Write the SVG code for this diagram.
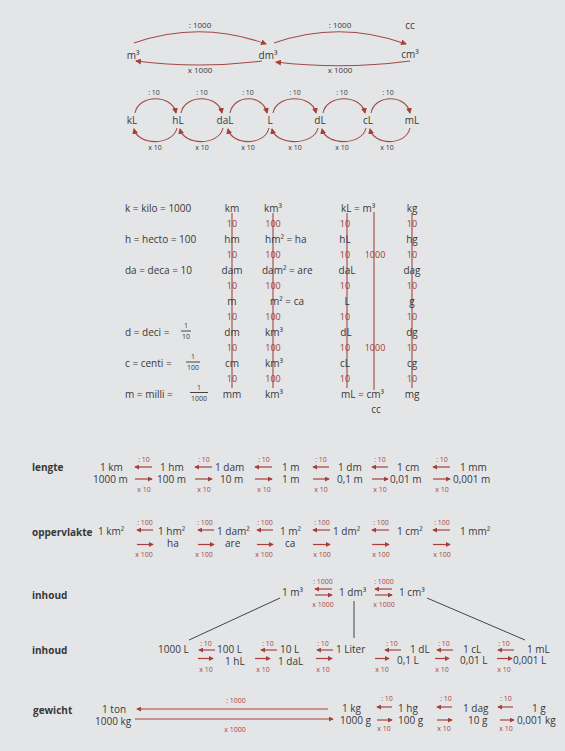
<svg xmlns="http://www.w3.org/2000/svg" width="565" height="751" viewBox="0 0 565 751">
<defs>
<style>
text{font-family:"Open Sans","Noto Sans","DejaVu Sans",sans-serif;fill:#383838}
.n{font-size:10px}
.b{font-size:10px;font-weight:bold}
.s{font-size:7px}
.m{text-anchor:middle}
.rs{font-size:7px;fill:#a8453e;text-anchor:middle}
.tr{font-size:9px;fill:#9e3b35;text-anchor:middle}
.arc{fill:none;stroke:#a04a45;stroke-width:1.1}
.ar{fill:none;stroke:#a8403a;stroke-width:1.2}
.vl{stroke:#a65550;stroke-width:1.2}
.gl{stroke:#444;stroke-width:1}
</style>
<marker id="ah" viewBox="0 0 6 6" markerWidth="6" markerHeight="6" refX="5" refY="3" orient="auto" markerUnits="userSpaceOnUse">
<path d="M0,0 L6,3 L0,6 z" fill="#a8403a"/>
</marker>
<marker id="as" viewBox="0 0 6 6" markerWidth="5" markerHeight="5" refX="5" refY="3" orient="auto" markerUnits="userSpaceOnUse">
<path d="M0,0 L6,3 L0,6 z" fill="#a8403a"/>
</marker>
</defs>
<rect width="565" height="751" fill="#e4e5e7"/>

<!-- top: volume units -->
<g id="top-nodes">
<text class="n m" x="133" y="59">m³</text>
<text class="n m" x="268" y="59">dm³</text>
<text class="n m" x="410" y="58">cm³</text>
<text class="n m" x="410" y="29">cc</text>
</g>
<g id="litre-nodes">
<text class="n m" x="132" y="124">kL</text>
<text class="n m" x="178" y="124">hL</text>
<text class="n m" x="225" y="124">daL</text>
<text class="n m" x="270" y="124">L</text>
<text class="n m" x="320" y="124">dL</text>
<text class="n m" x="368" y="124">cL</text>
<text class="n m" x="412" y="124">mL</text>
</g>

<g id="table">
<g id="prefixes">
<text class="n" x="125" y="211.5">k = kilo = 1000</text>
<text class="n" x="125" y="242.5">h = hecto = 100</text>
<text class="n" x="125" y="273.5">da = deca = 10</text>
<text class="n" x="125" y="335.5">d = deci =</text>
<text class="s m" x="186" y="328">1</text><line class="gl" x1="181" y1="331" x2="191" y2="331" stroke-width="0.8"/><text class="s m" x="186" y="339">10</text>
<text class="n" x="125" y="366.5">c = centi =</text>
<text class="s m" x="193" y="359">1</text><line class="gl" x1="186" y1="362" x2="200" y2="362" stroke-width="0.8"/><text class="s m" x="193" y="370">100</text>
<text class="n" x="125" y="397.5">m = milli =</text>
<text class="s m" x="199" y="389.5">1</text><line class="gl" x1="190" y1="392.5" x2="208" y2="392.5" stroke-width="0.8"/><text class="s m" x="199" y="401">1000</text>
</g>
<g id="table-lines">
<line class="vl" x1="232" y1="213" x2="232" y2="388"/>
<line class="vl" x1="273" y1="213" x2="273" y2="388"/>
<line class="vl" x1="347" y1="213" x2="347" y2="388"/>
<line class="vl" x1="374" y1="212" x2="374" y2="390"/>
<line class="vl" x1="412" y1="213" x2="412" y2="388"/>
</g>
<g id="col-length">
<text class="n m" x="232" y="211.5">km</text>
<text class="tr" x="232" y="226.5">10</text>
<text class="n m" x="232" y="242.5">hm</text>
<text class="tr" x="232" y="257.5">10</text>
<text class="n m" x="232" y="273.5">dam</text>
<text class="tr" x="232" y="288.5">10</text>
<text class="n m" x="232" y="304.5">m</text>
<text class="tr" x="232" y="319.5">10</text>
<text class="n m" x="232" y="335.5">dm</text>
<text class="tr" x="232" y="350.5">10</text>
<text class="n m" x="232" y="366.5">cm</text>
<text class="tr" x="232" y="381.5">10</text>
<text class="n m" x="232" y="397.5">mm</text>
</g>
<g id="col-area">
<text class="n" x="264" y="211.5">km³</text>
<text class="tr" x="273" y="226.5">100</text>
<text class="n" x="265" y="242.5">hm² = ha</text>
<text class="tr" x="273" y="257.5">100</text>
<text class="n" x="262" y="273.5">dam² = are</text>
<text class="tr" x="273" y="288.5">100</text>
<text class="n" x="270" y="304.5">m² = ca</text>
<text class="tr" x="273" y="319.5">100</text>
<text class="n" x="265" y="335.5">km³</text>
<text class="tr" x="273" y="350.5">100</text>
<text class="n" x="265" y="366.5">km³</text>
<text class="tr" x="273" y="381.5">100</text>
<text class="n" x="265" y="397.5">km³</text>
</g>
<g id="col-volume">
<text class="n" x="341" y="211.5">kL  =  m³</text>
<text class="tr" x="345" y="226.5">10</text>
<text class="n m" x="345" y="242.5">hL</text>
<text class="tr" x="345" y="257.5">10</text>
<text class="tr" x="375" y="257.5">1000</text>
<text class="n m" x="347" y="273.5">daL</text>
<text class="tr" x="345" y="288.5">10</text>
<text class="n m" x="347" y="304.5">L</text>
<text class="tr" x="345" y="319.5">10</text>
<text class="n m" x="346" y="335.5">dL</text>
<text class="tr" x="345" y="350.5">10</text>
<text class="tr" x="375" y="350.5">1000</text>
<text class="n m" x="345" y="366.5">cL</text>
<text class="tr" x="345" y="381.5">10</text>
<text class="n" x="341" y="397.5">mL = cm³</text>
<text class="n m" x="376" y="412.5">cc</text>
</g>
<g id="col-mass">
<text class="n m" x="412" y="211.5">kg</text>
<text class="tr" x="412" y="226.5">10</text>
<text class="n m" x="412" y="242.5">hg</text>
<text class="tr" x="412" y="257.5">10</text>
<text class="n m" x="412" y="273.5">dag</text>
<text class="tr" x="412" y="288.5">10</text>
<text class="n m" x="412" y="304.5">g</text>
<text class="tr" x="412" y="319.5">10</text>
<text class="n m" x="412" y="335.5">dg</text>
<text class="tr" x="412" y="350.5">10</text>
<text class="n m" x="412" y="366.5">cg</text>
<text class="tr" x="412" y="381.5">10</text>
<text class="n m" x="412" y="397.5">mg</text>
</g>
</g>

<g id="lengte">
<text class="b" x="32" y="471">lengte</text>
<text class="n" x="100" y="470.5">1 km</text>
<text class="n" x="160" y="470.5">1 hm</text>
<text class="n" x="215" y="470.5">1 dam</text>
<text class="n" x="282" y="470.5">1 m</text>
<text class="n" x="338" y="470.5">1 dm</text>
<text class="n" x="397" y="470.5">1 cm</text>
<text class="n" x="460" y="470.5">1 mm</text>
<text class="n" x="93" y="482.5">1000 m</text>
<text class="n" x="157" y="482.5">100 m</text>
<text class="n" x="220" y="482.5">10 m</text>
<text class="n" x="282" y="482.5">1 m</text>
<text class="n" x="337" y="482.5">0,1 m</text>
<text class="n" x="390" y="482.5">0,01 m</text>
<text class="n" x="453" y="482.5">0,001 m</text>
</g>

<g id="oppervlakte">
<text class="b" x="32" y="535.5">oppervlakte</text>
<text class="n" x="98" y="534.5">1 km²</text>
<text class="n" x="158" y="534.5">1 hm²</text>
<text class="n" x="217" y="534.5">1 dam²</text>
<text class="n" x="280" y="534.5">1 m²</text>
<text class="n" x="333" y="534.5">1 dm²</text>
<text class="n" x="397" y="534.5">1 cm²</text>
<text class="n" x="460" y="534.5">1 mm²</text>
<text class="n" x="167" y="547">ha</text>
<text class="n" x="225" y="547">are</text>
<text class="n" x="285" y="547">ca</text>
</g>

<g id="inhoud-1">
<text class="b" x="32" y="599">inhoud</text>
<text class="n" x="282" y="595.5">1 m³</text>
<text class="n" x="339" y="595.5">1 dm³</text>
<text class="n" x="399" y="595.5">1 cm³</text>
</g>

<g id="inhoud-2">
<text class="b" x="32" y="654">inhoud</text>
<text class="n" x="158" y="652.5">1000 L</text>
<text class="n" x="217" y="652.5">100 L</text>
<text class="n" x="280" y="652.5">10 L</text>
<text class="n" x="336" y="652.5">1 Liter</text>
<text class="n" x="410" y="652.5">1 dL</text>
<text class="n" x="463" y="652.5">1 cL</text>
<text class="n" x="527" y="652.5">1 mL</text>
<text class="n" x="225" y="665">1 hL</text>
<text class="n" x="278" y="665">1 daL</text>
<text class="n" x="397" y="664">0,1 L</text>
<text class="n" x="460" y="664">0,01 L</text>
<text class="n" x="513" y="664">0,001 L</text>
</g>

<g id="gewicht">
<text class="b" x="33" y="713.5">gewicht</text>
<text class="n" x="102" y="713">1 ton</text>
<text class="n" x="95" y="725">1000 kg</text>
<text class="n" x="342" y="711.5">1 kg</text>
<text class="n" x="398" y="711.5">1 hg</text>
<text class="n" x="463" y="711.5">1 dag</text>
<text class="n" x="532" y="711.5">1 g</text>
<text class="n" x="340" y="723.5">1000 g</text>
<text class="n" x="398" y="723.5">100 g</text>
<text class="n" x="468" y="723.5">10 g</text>
<text class="n" x="517" y="723.5">0,001 kg</text>
</g>

<g id="connectors">
<!-- top arcs -->
<path class="arc" d="M134,43 Q200,20 266,44" marker-end="url(#ah)"/>
<path class="arc" d="M274,43 Q340,20 406,44" marker-end="url(#ah)"/>
<path class="arc" d="M262,61 Q198,69 136,61" marker-end="url(#ah)"/>
<path class="arc" d="M410,61 Q342,70 276,62" marker-end="url(#ah)"/>
<text class="s m" x="200" y="28" style="font-size:8px">: 1000</text>
<text class="s m" x="340" y="28" style="font-size:8px">: 1000</text>
<text class="s m" x="200" y="73" style="font-size:8px">x 1000</text>
<text class="s m" x="340" y="73" style="font-size:8px">x 1000</text>
<!-- litre arcs -->
<g>
<path class="arc" d="M135,113 C139,94 172,94 176,113" marker-end="url(#ah)"/>
<path class="arc" d="M181,113 C185,94 218,94 222,113" marker-end="url(#ah)"/>
<path class="arc" d="M230,113 C234,94 263,94 267,113" marker-end="url(#ah)"/>
<path class="arc" d="M273,113 C277,94 312,94 316,113" marker-end="url(#ah)"/>
<path class="arc" d="M323,113 C327,94 361,94 365,113" marker-end="url(#ah)"/>
<path class="arc" d="M371,113 C375,94 406,94 410,113" marker-end="url(#ah)"/>
<path class="arc" d="M177,128 C173,146 138,146 134,129" marker-end="url(#ah)"/>
<path class="arc" d="M223,128 C219,146 184,146 180,129" marker-end="url(#ah)"/>
<path class="arc" d="M269,128 C265,146 232,146 228,129" marker-end="url(#ah)"/>
<path class="arc" d="M318,128 C314,146 276,146 272,129" marker-end="url(#ah)"/>
<path class="arc" d="M366,128 C362,146 326,146 322,129" marker-end="url(#ah)"/>
<path class="arc" d="M410,128 C406,146 374,146 370,129" marker-end="url(#ah)"/>
<text class="s m" x="154" y="95">: 10</text>
<text class="s m" x="202" y="95">: 10</text>
<text class="s m" x="248" y="95">: 10</text>
<text class="s m" x="295" y="95">: 10</text>
<text class="s m" x="342" y="95">: 10</text>
<text class="s m" x="388" y="95">: 10</text>
<text class="s m" x="155" y="150">x 10</text>
<text class="s m" x="202" y="150">x 10</text>
<text class="s m" x="248" y="150">x 10</text>
<text class="s m" x="295" y="150">x 10</text>
<text class="s m" x="342" y="150">x 10</text>
<text class="s m" x="387" y="150">x 10</text>
</g>
<!-- lengte arrows -->
<g>
<line class="ar" x1="152" y1="467" x2="135" y2="467" marker-end="url(#as)"/>
<line class="ar" x1="212" y1="467" x2="195" y2="467" marker-end="url(#as)"/>
<line class="ar" x1="272" y1="467" x2="255" y2="467" marker-end="url(#as)"/>
<line class="ar" x1="329" y1="467" x2="313" y2="467" marker-end="url(#as)"/>
<line class="ar" x1="388" y1="467" x2="372" y2="467" marker-end="url(#as)"/>
<line class="ar" x1="450" y1="467" x2="433" y2="467" marker-end="url(#as)"/>
<line class="ar" x1="135" y1="479" x2="152" y2="479" marker-end="url(#as)"/>
<line class="ar" x1="195" y1="479" x2="212" y2="479" marker-end="url(#as)"/>
<line class="ar" x1="255" y1="479" x2="272" y2="479" marker-end="url(#as)"/>
<line class="ar" x1="313" y1="479" x2="329" y2="479" marker-end="url(#as)"/>
<line class="ar" x1="372" y1="479" x2="388" y2="479" marker-end="url(#as)"/>
<line class="ar" x1="433" y1="479" x2="450" y2="479" marker-end="url(#as)"/>
<text class="rs" x="144" y="461.5">: 10</text>
<text class="rs" x="204" y="461.5">: 10</text>
<text class="rs" x="264" y="461.5">: 10</text>
<text class="rs" x="321" y="461.5">: 10</text>
<text class="rs" x="380" y="461.5">: 10</text>
<text class="rs" x="442" y="461.5">: 10</text>
<text class="rs" x="144" y="491.5">x 10</text>
<text class="rs" x="204" y="491.5">x 10</text>
<text class="rs" x="264" y="491.5">x 10</text>
<text class="rs" x="321" y="491.5">x 10</text>
<text class="rs" x="380" y="491.5">x 10</text>
<text class="rs" x="442" y="491.5">x 10</text>
</g>
<!-- oppervlakte arrows -->
<g>
<line class="ar" x1="153" y1="530" x2="137" y2="530" marker-end="url(#as)"/>
<line class="ar" x1="214" y1="530" x2="198" y2="530" marker-end="url(#as)"/>
<line class="ar" x1="273" y1="530" x2="257" y2="530" marker-end="url(#as)"/>
<line class="ar" x1="330" y1="530" x2="313" y2="530" marker-end="url(#as)"/>
<line class="ar" x1="389" y1="530" x2="372" y2="530" marker-end="url(#as)"/>
<line class="ar" x1="450" y1="530" x2="433" y2="530" marker-end="url(#as)"/>
<line class="ar" x1="137" y1="544.5" x2="153" y2="544.5" marker-end="url(#as)"/>
<line class="ar" x1="198" y1="544.5" x2="214" y2="544.5" marker-end="url(#as)"/>
<line class="ar" x1="257" y1="544.5" x2="273" y2="544.5" marker-end="url(#as)"/>
<line class="ar" x1="313" y1="544.5" x2="330" y2="544.5" marker-end="url(#as)"/>
<line class="ar" x1="372" y1="544.5" x2="389" y2="544.5" marker-end="url(#as)"/>
<line class="ar" x1="433" y1="544.5" x2="450" y2="544.5" marker-end="url(#as)"/>
<text class="rs" x="145" y="524.5">: 100</text>
<text class="rs" x="205" y="524.5">: 100</text>
<text class="rs" x="265" y="524.5">: 100</text>
<text class="rs" x="322" y="524.5">: 100</text>
<text class="rs" x="381" y="524.5">: 100</text>
<text class="rs" x="442" y="524.5">: 100</text>
<text class="rs" x="144" y="556.5">x 100</text>
<text class="rs" x="204" y="556.5">x 100</text>
<text class="rs" x="264" y="556.5">x 100</text>
<text class="rs" x="322" y="556.5">x 100</text>
<text class="rs" x="381" y="556.5">x 100</text>
<text class="rs" x="442" y="556.5">x 100</text>
</g>
<!-- inhoud arrows -->
<g>
<line class="ar" x1="332" y1="589" x2="315" y2="589" marker-end="url(#as)"/>
<line class="ar" x1="315" y1="595" x2="332" y2="595" marker-end="url(#as)"/>
<line class="ar" x1="392" y1="589" x2="375" y2="589" marker-end="url(#as)"/>
<line class="ar" x1="375" y1="595" x2="392" y2="595" marker-end="url(#as)"/>
<text class="rs" x="323" y="583.5">: 1000</text>
<text class="rs" x="384" y="583.5">: 1000</text>
<text class="rs" x="323" y="607">x 1000</text>
<text class="rs" x="384" y="607">x 1000</text>
<line class="gl" x1="280" y1="598" x2="189" y2="640"/>
<line class="gl" x1="354" y1="601" x2="354" y2="638"/>
<line class="gl" x1="427" y1="598" x2="525" y2="640"/>
<line class="ar" x1="215" y1="650" x2="199" y2="650" marker-end="url(#as)"/>
<line class="ar" x1="277" y1="650" x2="261" y2="650" marker-end="url(#as)"/>
<line class="ar" x1="333" y1="650" x2="317" y2="650" marker-end="url(#as)"/>
<line class="ar" x1="401" y1="650" x2="385" y2="650" marker-end="url(#as)"/>
<line class="ar" x1="453" y1="650" x2="437" y2="650" marker-end="url(#as)"/>
<line class="ar" x1="514" y1="650" x2="498" y2="650" marker-end="url(#as)"/>
<text class="rs" x="206" y="646">: 10</text>
<text class="rs" x="268" y="646">: 10</text>
<text class="rs" x="323" y="646">: 10</text>
<text class="rs" x="392" y="646">: 10</text>
<text class="rs" x="444" y="646">: 10</text>
<text class="rs" x="504" y="646">: 10</text>
<line class="ar" x1="198" y1="658.5" x2="213" y2="658.5" marker-end="url(#as)"/>
<line class="ar" x1="255" y1="658.5" x2="270" y2="658.5" marker-end="url(#as)"/>
<line class="ar" x1="316" y1="658.5" x2="332" y2="658.5" marker-end="url(#as)"/>
<line class="ar" x1="375" y1="658.5" x2="389" y2="658.5" marker-end="url(#as)"/>
<line class="ar" x1="435" y1="658.5" x2="449" y2="658.5" marker-end="url(#as)"/>
<line class="ar" x1="497" y1="658.5" x2="512" y2="658.5" marker-end="url(#as)"/>
<text class="rs" x="206" y="672">x 10</text>
<text class="rs" x="263" y="672">x 10</text>
<text class="rs" x="323" y="672">x 10</text>
<text class="rs" x="382" y="672">x 10</text>
<text class="rs" x="442" y="672">x 10</text>
<text class="rs" x="504" y="672">x 10</text>
</g>
<!-- gewicht arrows -->
<g>
<line class="ar" x1="328" y1="709" x2="137" y2="709" marker-end="url(#as)"/>
<line class="ar" x1="135" y1="719" x2="333" y2="719" marker-end="url(#as)"/>
<text class="rs" x="236" y="702.5">: 1000</text>
<text class="rs" x="235" y="731.5">x 1000</text>
<line class="ar" x1="392" y1="707" x2="377" y2="707" marker-end="url(#as)"/>
<line class="ar" x1="452" y1="707" x2="437" y2="707" marker-end="url(#as)"/>
<line class="ar" x1="513" y1="707" x2="498" y2="707" marker-end="url(#as)"/>
<text class="rs" x="387" y="700.5">: 10</text>
<text class="rs" x="446" y="700.5">: 10</text>
<text class="rs" x="506" y="700.5">: 10</text>
<line class="ar" x1="377" y1="720" x2="392" y2="720" marker-end="url(#as)"/>
<line class="ar" x1="437" y1="720" x2="452" y2="720" marker-end="url(#as)"/>
<line class="ar" x1="500" y1="720" x2="514" y2="720" marker-end="url(#as)"/>
<text class="rs" x="384" y="730.5">x 10</text>
<text class="rs" x="444" y="730.5">x 10</text>
<text class="rs" x="506" y="730.5">x 10</text>
</g>
</g>
</svg>
